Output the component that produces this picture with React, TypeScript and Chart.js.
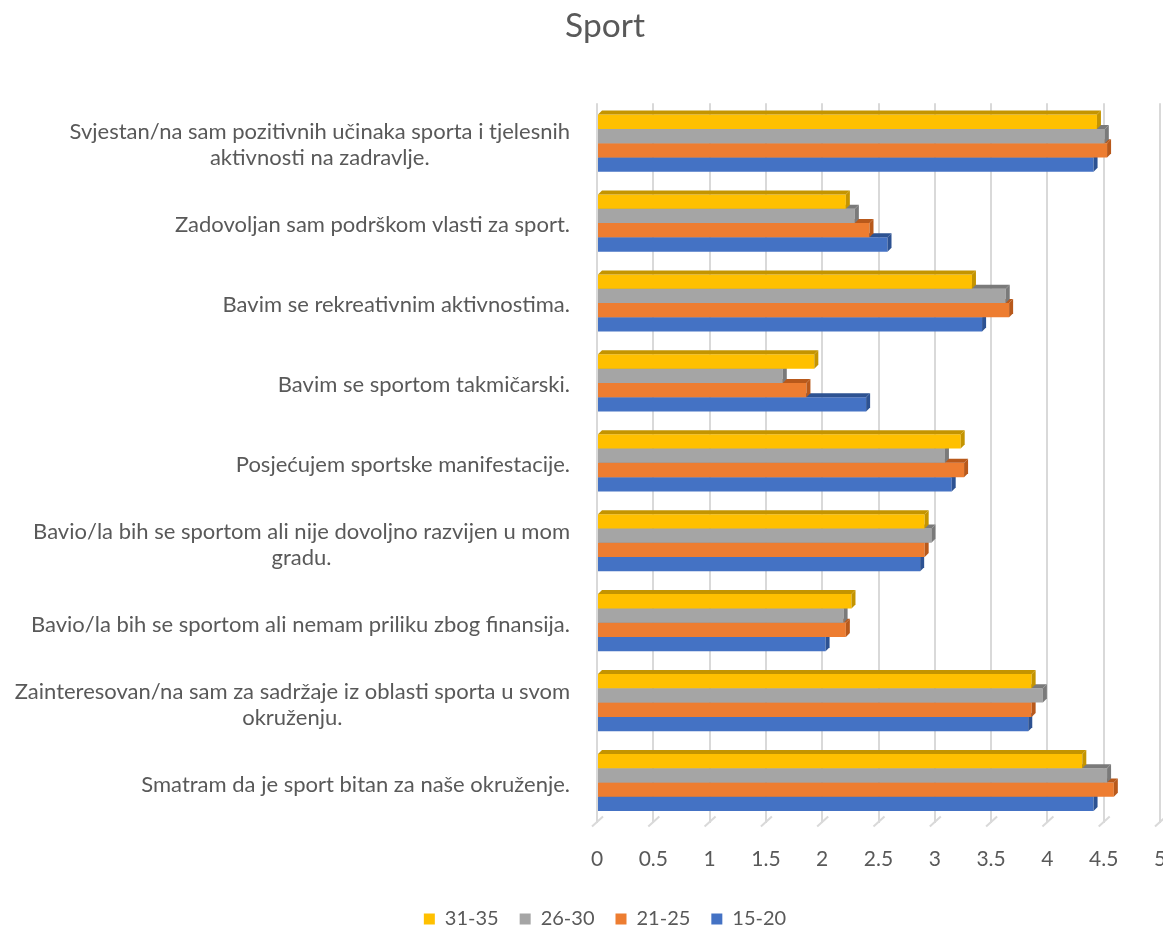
import React, { useEffect, useRef } from "react";
import { Chart, registerables } from "chart.js";

Chart.register(...registerables);

const TITLE = "Sport";

const categories: (string | string[])[] = [
  ["Svjestan/na sam pozitivnih učinaka sporta i tjelesnih", "aktivnosti na zadravlje."],
  "Zadovoljan sam podrškom vlasti za sport.",
  "Bavim se rekreativnim aktivnostima.",
  "Bavim se sportom takmičarski.",
  "Posjećujem sportske manifestacije.",
  ["Bavio/la bih se sportom ali nije dovoljno razvijen u mom", "gradu."],
  "Bavio/la bih se sportom ali nemam priliku zbog finansija.",
  ["Zainteresovan/na sam za sadržaje iz oblasti sporta u svom", "okruženju."],
  "Smatram da je sport bitan za naše okruženje.",
];

const seriesNames = ["31-35", "26-30", "21-25", "15-20"];

const values3135 = [4.44, 2.21, 3.33, 1.93, 3.23, 2.91, 2.26, 3.86, 4.31];
const values2630 = [4.51, 2.29, 3.63, 1.65, 3.09, 2.97, 2.19, 3.96, 4.53];
const values2125 = [4.53, 2.42, 3.66, 1.86, 3.26, 2.91, 2.21, 3.86, 4.59];
const values1520 = [4.41, 2.58, 3.42, 2.39, 3.15, 2.87, 2.03, 3.83, 4.41];

const xMin = 0;
const xMax = 5;
const xStep = 0.5;

const frontColors = ["#FFC000", "#A5A5A5", "#ED7D31", "#4472C4"];
const sideColors = ["#C49400", "#7A7A7A", "#B8591B", "#2D5292"];

const TEXT = "#595959";
const GRID = "#D9D9D9";
const FONT = "Lato";

const depthPlugin = {
  id: "depth3d",
  afterDatasetDraw(chart: any, args: any) {
    const ctx = chart.ctx;
    const meta = args.meta;
    const col = sideColors[args.index];
    const dx = 4;
    const dy = 4;
    ctx.save();
    ctx.fillStyle = col;
    meta.data.forEach((el: any) => {
      const p = el.getProps(["x", "y", "base", "height"], true);
      const top = p.y - p.height / 2;
      const bottom = p.y + p.height / 2;
      ctx.beginPath();
      ctx.moveTo(p.base, top);
      ctx.lineTo(p.base + dx, top - dy);
      ctx.lineTo(p.x + dx, top - dy);
      ctx.lineTo(p.x, top);
      ctx.closePath();
      ctx.fill();
      ctx.beginPath();
      ctx.moveTo(p.x, top);
      ctx.lineTo(p.x + dx, top - dy);
      ctx.lineTo(p.x + dx, bottom - dy);
      ctx.lineTo(p.x, bottom);
      ctx.closePath();
      ctx.fill();
    });
    ctx.restore();
  },
};

// slanted "floor" marks under each x tick, like the 3D floor of the original
const floorPlugin = {
  id: "floorTicks",
  beforeDatasetsDraw(chart: any) {
    const ctx = chart.ctx;
    const xScale = chart.scales.x;
    const bottom = chart.chartArea.bottom;
    ctx.save();
    ctx.strokeStyle = GRID;
    ctx.lineWidth = 2;
    xScale.ticks.forEach((t: any) => {
      const px = xScale.getPixelForValue(t.value);
      ctx.beginPath();
      ctx.moveTo(px - 5, bottom + 4);
      ctx.lineTo(px + 6, bottom - 6);
      ctx.stroke();
    });
    ctx.restore();
  },
};

const categoryLabelsPlugin = {
  id: "categoryLabels",
  afterDraw(chart: any) {
    const ctx = chart.ctx;
    const yScale = chart.scales.y;
    const right = chart.chartArea.left - 27;
    const lh = 26;
    ctx.save();
    ctx.font = `22px ${FONT}`;
    ctx.fillStyle = TEXT;
    ctx.textBaseline = "middle";
    ctx.textAlign = "center";
    categories.forEach((lab, i) => {
      const lines = Array.isArray(lab) ? lab : [lab];
      const widest = Math.max(...lines.map((l) => ctx.measureText(l).width));
      const cx = right - widest / 2;
      const cy = yScale.getPixelForValue(i) + 2;
      lines.forEach((l, j) => {
        ctx.fillText(l, cx, cy + (j - (lines.length - 1) / 2) * lh);
      });
    });
    ctx.restore();
  },
};

export default function App() {
  const ref = useRef<HTMLCanvasElement | null>(null);

  useEffect(() => {
    if (!ref.current) return;
    const seriesValues = [values3135, values2630, values2125, values1520];
    const chart = new Chart(ref.current, {
      type: "bar",
      data: {
        labels: categories.map((c) => (Array.isArray(c) ? c.join(" ") : c)),
        datasets: seriesNames.map((name, i) => ({
          label: name,
          data: seriesValues[i],
          backgroundColor: frontColors[i],
          borderWidth: 0,
          categoryPercentage: 0.715,
          barPercentage: 1,
        })),
      },
      options: {
        indexAxis: "y",
        animation: false,
        responsive: false,
        maintainAspectRatio: false,
        devicePixelRatio: 1,
        layout: { padding: { left: 50, right: 50, top: 0, bottom: 0 } },
        scales: {
          x: {
            type: "linear",
            min: xMin,
            max: xMax,
            ticks: {
              stepSize: xStep,
              color: TEXT,
              font: { family: FONT, size: 21 },
              padding: 24,
              callback: (v: any) => String(Number(v)),
            },
            grid: { color: GRID, lineWidth: 2, drawTicks: false },
            border: { display: false },
            afterFit: (s: any) => {
              s.height = 65.5;
            },
          },
          y: {
            type: "category",
            grid: { display: false },
            border: { display: false },
            ticks: { display: false },
            afterFit: (s: any) => {
              s.width = 547;
            },
          },
        },
        plugins: {
          title: {
            display: true,
            text: TITLE,
            color: TEXT,
            font: { family: FONT, size: 33.5, weight: "normal" },
            padding: { top: 6, bottom: 57 },
          },
          legend: {
            position: "bottom",
            labels: {
              boxWidth: 11,
              boxHeight: 11,
              padding: 21,
              color: TEXT,
              font: { family: FONT, size: 20 },
            },
          },
          tooltip: { enabled: false },
        },
      },
      plugins: [floorPlugin, depthPlugin, categoryLabelsPlugin],
    } as any);
    return () => chart.destroy();
  }, []);

  return (
    <div
      style={{
        position: "fixed",
        left: 0,
        top: 0,
        width: 1163,
        height: 927,
        overflow: "hidden",
        background: "#ffffff",
      }}
    >
      <canvas ref={ref} width={1210} height={939} style={{ width: 1210, height: 939, display: "block" }} />
    </div>
  );
}
